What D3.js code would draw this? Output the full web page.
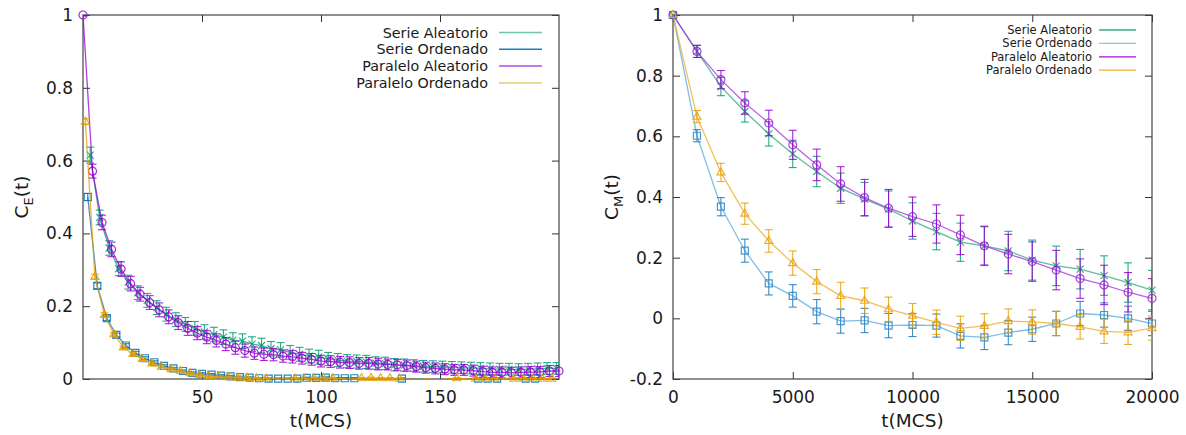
<!DOCTYPE html>
<html>
<head>
<meta charset="utf-8">
<script src="https://cdn.jsdelivr.net/npm/d3@7"></script>
<style>
  body { margin: 0; background: #fff; }
  text { font-family: "DejaVu Sans", sans-serif; fill: #1a1a1a; }
</style>
</head>
<body>
<svg id="chart"></svg>
<script>
const seriesNames = ['Serie Aleatorio', 'Serie Ordenado', 'Paralelo Aleatorio', 'Paralelo Ordenado'];

// ---- left panel: C_E(t), sampled every 4 MCS, each run shifted by one step
const tE_SA = d3.range(3, 200, 4);
const tE_SO = d3.range(2, 200, 4);
const tE_PA = d3.range(0, 201, 4);
const tE_PO = d3.range(1, 200, 4);

const ceSA = [0.615,0.444,0.360,0.303,0.266,0.237,0.216,0.196,0.178,0.163,
              0.150,0.139,0.129,0.122,0.115,0.107,0.104,0.096,0.092,0.083,
              0.080,0.073,0.068,0.063,0.060,0.055,0.052,0.049,0.048,0.047,
              0.044,0.043,0.039,0.038,0.037,0.035,0.034,0.033,0.032,0.031,
              0.030,0.029,0.028,0.027,0.027,0.026,0.027,0.028,0.029,0.029];
const ceSAerr = [0.022,0.020,0.020,0.019,0.019,0.019,0.019,0.019,0.019,0.019,
                 0.019,0.019,0.020,0.020,0.020,0.020,0.020,0.020,0.020,0.020,
                 0.020,0.019,0.019,0.019,0.019,0.018,0.018,0.018,0.018,0.018,
                 0.017,0.017,0.017,0.017,0.016,0.016,0.016,0.016,0.016,0.016,
                 0.016,0.016,0.016,0.016,0.016,0.016,0.016,0.016,0.016,0.016];
const ceSO = [0.500,0.256,0.167,0.121,0.092,0.072,0.057,0.046,0.036,0.029,
              0.022,0.017,0.014,0.012,0.009,0.007,0.005,0.004,0.002,0.001,
              0.001,0.001,0.001,0.003,0.003,0.004,0.002,0.002,0.002,-0.003,
              -0.004,-0.003,-0.002,0.001,-0.002,-0.003,-0.004,-0.003,-0.004,-0.002,
              -0.001,0.001,0.001,0.001,-0.002,-0.001,0.001,0.001,-0.002,-0.003];
const ceSOerr = [0.010,0.008,0.006,0.005,0.005,0.004,0.004,0.004,0.003,0.003,
                 0.003,0.003,0.003,0.003,0.003,0.003,0.003,0.002,0.002,0.002,
                 0.002,0.002,0.002,0.002,0.002,0.002,0.002,0.002,0.002,0.002,
                 0.002,0.002,0.002,0.002,0.002,0.002,0.002,0.002,0.002,0.002,
                 0.002,0.002,0.002,0.002,0.002,0.002,0.002,0.002,0.002,0.002];
const cePA = [1.000,0.571,0.430,0.356,0.302,0.262,0.233,0.210,0.190,0.171,
              0.155,0.139,0.126,0.115,0.106,0.096,0.086,0.078,0.071,0.068,
              0.067,0.063,0.061,0.057,0.054,0.049,0.048,0.046,0.045,0.043,
              0.043,0.041,0.040,0.039,0.037,0.034,0.031,0.029,0.027,0.025,
              0.025,0.023,0.020,0.018,0.018,0.017,0.018,0.019,0.019,0.022,0.022];
const cePAerr = [0.003,0.019,0.020,0.020,0.020,0.020,0.019,0.019,0.019,0.019,
                 0.019,0.019,0.018,0.018,0.018,0.018,0.018,0.018,0.017,0.017,
                 0.017,0.017,0.017,0.016,0.016,0.016,0.016,0.016,0.016,0.016,
                 0.016,0.016,0.015,0.015,0.015,0.015,0.015,0.015,0.015,0.015,
                 0.015,0.015,0.015,0.015,0.015,0.015,0.015,0.015,0.015,0.015,0.015];
const cePO = [0.707,0.281,0.176,0.123,0.087,0.069,0.055,0.043,0.034,0.027,
              0.022,0.016,0.011,0.008,0.006,0.005,0.004,0.003,0.002,0.001,
              -0.001,-0.001,0.001,0.000,0.002,0.002,0.002,-0.001,-0.001,0.002,
              0.003,0.002,0.002,0.001,-0.002,-0.003,-0.002,-0.003,-0.002,0.002,
              -0.001,0.001,0.001,0.001,-0.001,0.001,0.001,0.001,0.001,0.001];
const cePOerr = [0.008,0.007,0.006,0.005,0.004,0.004,0.004,0.003,0.003,0.003,
                 0.003,0.003,0.003,0.002,0.002,0.002,0.002,0.002,0.002,0.002,
                 0.002,0.002,0.002,0.002,0.002,0.002,0.002,0.002,0.002,0.002,
                 0.002,0.002,0.002,0.002,0.002,0.002,0.002,0.002,0.002,0.002,
                 0.002,0.002,0.002,0.002,0.002,0.002,0.002,0.002,0.002,0.002];

// ---- right panel: C_M(t), every 1000 MCS
const tM = [0,1000,2000,3000,4000,5000,6000,7000,8000,9000,10000,
            11000,12000,13000,14000,15000,16000,17000,18000,19000,20000];
const cmSA = [1,0.880,0.764,0.682,0.608,0.542,0.484,0.429,0.393,0.360,0.321,
              0.286,0.251,0.239,0.222,0.192,0.173,0.162,0.141,0.118,0.093];
const cmSAerr = [0,0.020,0.030,0.035,0.040,0.045,0.050,0.050,0.055,0.060,0.060,
                 0.060,0.063,0.065,0.065,0.066,0.065,0.065,0.065,0.065,0.065];
const cmSO = [1,0.602,0.368,0.223,0.115,0.074,0.022,-0.009,-0.007,-0.024,-0.022,
              -0.024,-0.058,-0.063,-0.047,-0.036,-0.017,0.016,0.011,0.000,-0.017];
const cmSOerr = [0,0.020,0.030,0.038,0.038,0.037,0.040,0.040,0.040,0.040,0.038,
                 0.038,0.040,0.040,0.040,0.040,0.040,0.040,0.040,0.040,0.040];
const cmPA = [1,0.880,0.787,0.710,0.644,0.572,0.506,0.443,0.398,0.363,0.335,
              0.311,0.275,0.239,0.212,0.187,0.159,0.131,0.110,0.086,0.066];
const cmPAerr = [0,0.020,0.030,0.037,0.042,0.048,0.052,0.057,0.060,0.062,0.065,
                 0.063,0.065,0.063,0.065,0.065,0.065,0.065,0.065,0.065,0.065];
const cmPO = [1,0.665,0.481,0.345,0.255,0.182,0.121,0.074,0.058,0.030,0.009,
              -0.013,-0.033,-0.025,-0.009,-0.012,-0.017,-0.028,-0.043,-0.046,-0.032];
const cmPOerr = [0,0.020,0.030,0.035,0.037,0.040,0.040,0.045,0.042,0.040,0.040,
                 0.040,0.040,0.040,0.040,0.040,0.040,0.040,0.040,0.040,0.040];

const xTicksE = [50, 100, 150];
const yTicksE = [0, 0.2, 0.4, 0.6, 0.8, 1];
const xTicksM = [0, 5000, 10000, 15000, 20000];
const yTicksM = [-0.2, 0, 0.2, 0.4, 0.6, 0.8, 1];

const W = 1186, H = 435;
const svg = d3.select('#chart').attr('width', W).attr('height', H);

// marker shapes (gnuplot-like point types)
const markers = {
  times: 'M-3.5,-3.5L3.5,3.5M-3.5,3.5L3.5,-3.5',
  square: 'M-3.5,-3.5h7v7h-7z',
  circle: 'M4,0A4,4 0 1,1 -4,0A4,4 0 1,1 4,0',
  triangle: 'M0,-4.5L4,2.5L-4,2.5Z'
};

function drawPanel(cfg) {
  const { left, right, top, bottom } = cfg.box;
  const x = d3.scaleLinear().domain(cfg.xDomain).range([left, right]);
  const y = d3.scaleLinear().domain(cfg.yDomain).range([bottom, top]);
  const g = svg.append('g');

  const clipId = 'clip-' + cfg.id;
  svg.append('clipPath').attr('id', clipId)
    .append('rect').attr('x', left).attr('y', top)
    .attr('width', right - left).attr('height', bottom - top);

  // axes with inward ticks, mirrored on top/right
  const fmt = d => d === 0 ? '0' : String(+d.toFixed(1));
  const axB = g.append('g').attr('transform', `translate(0,${bottom})`)
    .call(d3.axisBottom(x).tickValues(cfg.xTicks).tickSize(-7).tickPadding(12).tickFormat(d3.format('d')));
  const axT = g.append('g').attr('transform', `translate(0,${top})`)
    .call(d3.axisTop(x).tickValues(cfg.xTicks).tickSize(-7).tickFormat(''));
  const axL = g.append('g').attr('transform', `translate(${left},0)`)
    .call(d3.axisLeft(y).tickValues(cfg.yTicks).tickSize(-7).tickPadding(10).tickFormat(fmt));
  const axR = g.append('g').attr('transform', `translate(${right},0)`)
    .call(d3.axisRight(y).tickValues(cfg.yTicks).tickSize(-7).tickFormat(''));
  [axB, axT, axL, axR].forEach(a => {
    a.select('.domain').remove();
    a.selectAll('line').attr('stroke', '#333');
    a.selectAll('text').style('font-size', '17px').attr('fill', '#1a1a1a')
      .style('font-family', '"DejaVu Sans", sans-serif');
  });

  g.append('rect').attr('x', left).attr('y', top)
    .attr('width', right - left).attr('height', bottom - top)
    .attr('fill', 'none').attr('stroke', '#444').attr('stroke-width', 1.2);

  // axis titles
  g.append('text').attr('x', (left + right) / 2).attr('y', 427)
    .attr('text-anchor', 'middle').style('font-size', '18.5px').text('t(MCS)');
  const yl = g.append('text')
    .attr('transform', `translate(${cfg.yLabelX},${(top + bottom) / 2}) rotate(-90)`)
    .attr('text-anchor', 'middle').style('font-size', '18.5px');
  yl.append('tspan').text('C');
  yl.append('tspan').attr('dy', 5).style('font-size', '13px').text(cfg.sub);
  yl.append('tspan').attr('dy', -5).text('(t)');

  const inY = v => v >= cfg.yDomain[0] && v <= cfg.yDomain[1];

  cfg.series.forEach(s => {
    const pts = s.t.map((t, i) => ({ t, v: s.v[i], e: s.e[i] }));
    const sg = g.append('g');

    // connecting line, clipped to the plot box
    sg.append('path').datum(pts)
      .attr('clip-path', `url(#${clipId})`)
      .attr('fill', 'none').attr('stroke', s.lineColor)
      .attr('stroke-opacity', 0.75).attr('stroke-width', 1.3)
      .attr('d', d3.line().x(d => x(d.t)).y(d => y(d.v)));

    // error bars
    const eb = sg.append('g').attr('clip-path', `url(#${clipId})`)
      .attr('stroke', s.barColor).attr('stroke-width', 1.1).attr('stroke-opacity', 0.85);
    pts.filter(d => d.e > 0).forEach(d => {
      const xp = x(d.t), y1 = y(d.v + d.e), y2 = y(d.v - d.e);
      eb.append('line').attr('x1', xp).attr('x2', xp).attr('y1', y1).attr('y2', y2);
      eb.append('line').attr('x1', xp - 4).attr('x2', xp + 4).attr('y1', y1).attr('y2', y1);
      eb.append('line').attr('x1', xp - 4).attr('x2', xp + 4).attr('y1', y2).attr('y2', y2);
    });

    // point markers (only points inside the y range)
    sg.selectAll('path.mk').data(pts.filter(d => inY(d.v))).join('path')
      .attr('class', 'mk')
      .attr('transform', d => `translate(${x(d.t)},${y(d.v)})`)
      .attr('d', markers[s.marker])
      .attr('fill', 'none').attr('stroke', s.color)
      .attr('stroke-opacity', 0.85).attr('stroke-width', 1.2);
  });

  // legend
  const lg = cfg.legend;
  cfg.series.forEach((s, i) => {
    const yy = lg.y0 + i * lg.dy;
    g.append('text').attr('x', lg.textX).attr('y', yy).attr('dy', '0.35em')
      .attr('text-anchor', 'end').style('font-size', lg.font + 'px')
      .attr('fill', '#2a2a2a').text(seriesNames[i]);
    g.append('line').attr('x1', lg.x1).attr('x2', lg.x2).attr('y1', yy).attr('y2', yy)
      .attr('stroke', s.legendColor).attr('stroke-width', lg.sw);
  });
}

drawPanel({
  id: 'e', sub: 'E', yLabelX: 28,
  box: { left: 83, right: 559, top: 15, bottom: 379 },
  xDomain: [0, 200], yDomain: [0, 1],
  xTicks: xTicksE, yTicks: yTicksE,
  legend: { textX: 488, x1: 499, x2: 542, y0: 32.5, dy: 16.8, font: 14.3, sw: 1.5 },
  series: [
    { t: tE_SA, v: ceSA, e: ceSAerr, marker: 'times', color: '#009e73', lineColor: '#009e73', barColor: '#009e73', legendColor: '#6cc7aa' },
    { t: tE_SO, v: ceSO, e: ceSOerr, marker: 'square', color: '#0072b2', lineColor: '#0072b2', barColor: '#0072b2', legendColor: '#1a7fbb' },
    { t: tE_PA, v: cePA, e: cePAerr, marker: 'circle', color: '#9400d3', lineColor: '#9400d3', barColor: '#9400d3', legendColor: '#b04ce0' },
    { t: tE_PO, v: cePO, e: cePOerr, marker: 'triangle', color: '#e69f00', lineColor: '#e69f00', barColor: '#e69f00', legendColor: '#ecc870' }
  ]
});

drawPanel({
  id: 'm', sub: 'M', yLabelX: 618,
  box: { left: 673, right: 1152, top: 15, bottom: 379 },
  xDomain: [0, 20000], yDomain: [-0.2, 1],
  xTicks: xTicksM, yTicks: yTicksM,
  legend: { textX: 1092, x1: 1099, x2: 1136, y0: 30, dy: 13.4, font: 11.5, sw: 1.3 },
  series: [
    { t: tM, v: cmSA, e: cmSAerr, marker: 'times', color: '#1a9c74', lineColor: '#2aa67e', barColor: '#009e73', legendColor: '#3aa884' },
    { t: tM, v: cmSO, e: cmSOerr, marker: 'square', color: '#2a86c6', lineColor: '#56a8dc', barColor: '#1b78b8', legendColor: '#8ec2e4' },
    { t: tM, v: cmPA, e: cmPAerr, marker: 'circle', color: '#a020d8', lineColor: '#a030dc', barColor: '#9400d3', legendColor: '#a010e0' },
    { t: tM, v: cmPO, e: cmPOerr, marker: 'triangle', color: '#e8a010', lineColor: '#eeaa20', barColor: '#e69f00', legendColor: '#f0b030' }
  ]
});
</script>
</body>
</html>
